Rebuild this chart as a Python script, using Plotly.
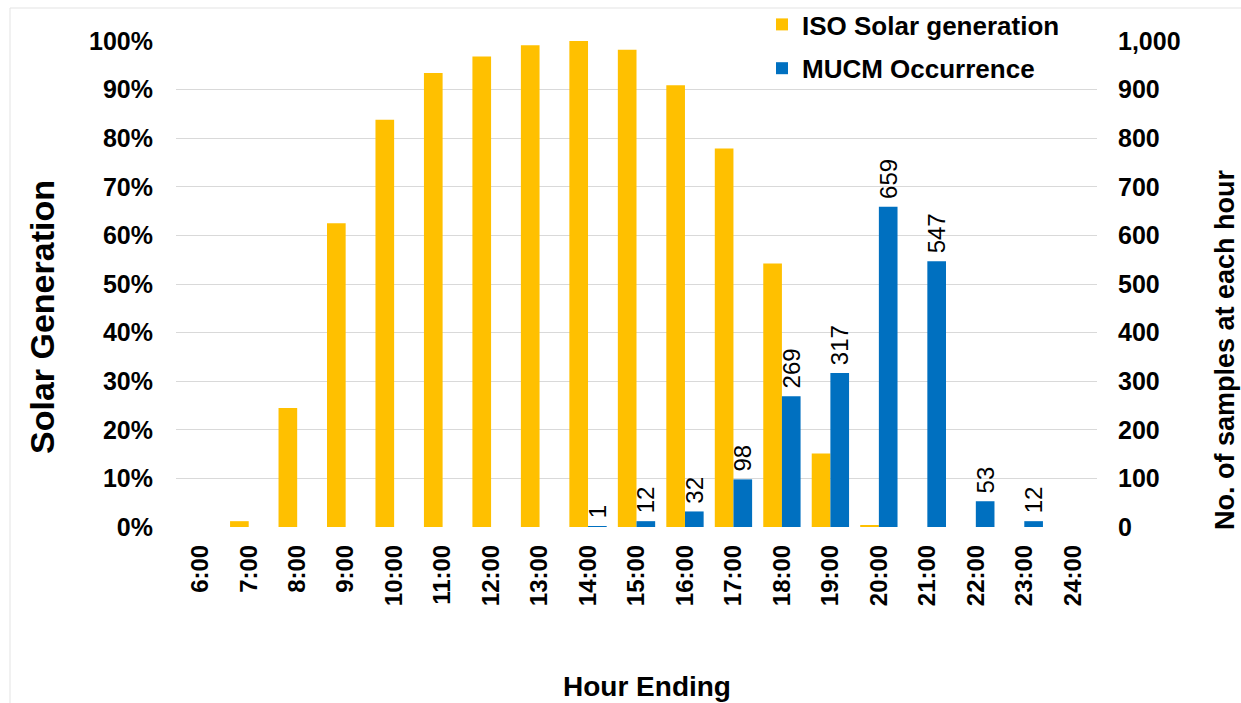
import plotly.graph_objects as go

# Hour-ending categories
hours = ["6:00", "7:00", "8:00", "9:00", "10:00", "11:00", "12:00", "13:00", "14:00",
         "15:00", "16:00", "17:00", "18:00", "19:00", "20:00", "21:00", "22:00", "23:00", "24:00"]

# ISO solar generation as a share of peak (left axis)
solar_share = [0.0, 0.012, 0.245, 0.625, 0.838, 0.934, 0.968, 0.991, 1.0,
               0.982, 0.909, 0.779, 0.542, 0.151, 0.003, 0.0, 0.0, 0.0, 0.0]

# MUCM occurrence counts per hour (right axis)
mucm_count = [None, None, None, None, None, None, None, None, 1,
              12, 32, 98, 269, 317, 659, 547, 53, 12, None]

FONT = "Liberation Sans, Arial, sans-serif"
YELLOW = "#FFC000"
BLUE = "#0070C0"
GRID = "#d9d9d9"
BAR_W = 0.385

# plot-area geometry in pixels, used to place the free-standing titles
FIG_W, FIG_H = 1241, 703
L, R, T, B = 176, 144, 41, 176
W_PLOT = FIG_W - L - R
H_PLOT = FIG_H - T - B


def px_to_paper(px, py):
    return (px - L) / W_PLOT, (FIG_H - B - py) / H_PLOT


fig = go.Figure()

fig.add_trace(go.Bar(
    x=hours, y=solar_share, name="ISO Solar generation",
    legendgroup="solar",
    marker=dict(color=YELLOW, line=dict(width=0)),
    width=BAR_W, offset=-BAR_W, yaxis="y",
))

fig.add_trace(go.Bar(
    x=hours, y=mucm_count, name="MUCM Occurrence",
    legendgroup="mucm",
    marker=dict(color=BLUE, line=dict(width=0)),
    width=BAR_W, offset=0, yaxis="y2",
    text=[("" if v is None else "\u2009" + f"{v:,}") for v in mucm_count],
    textposition="outside", textangle=-90, constraintext="none",
    textfont=dict(family=FONT, size=24, color="#000000"),
    cliponaxis=False,
))

lx, ly = px_to_paper(42, 317)
rx, ry = px_to_paper(1225, 350)
bx, by = px_to_paper(647, 686)
gx, gy = px_to_paper(762, 1)

fig.update_layout(
    width=FIG_W, height=FIG_H,
    margin=dict(l=L, r=R, t=T, b=B, autoexpand=False),
    paper_bgcolor="white", plot_bgcolor="white",
    barmode="overlay",
    font=dict(family=FONT, color="#000000"),
    showlegend=True,
    legend=dict(
        x=gx, y=gy, xanchor="left", yanchor="top",
        traceorder="grouped", tracegroupgap=7,
        bgcolor="rgba(0,0,0,0)", font=dict(family=FONT, size=26, color="#000000", weight="bold"),
        itemwidth=30,
    ),
    xaxis=dict(
        type="category", range=[-0.5, 18.5],
        tickangle=-90, tickfont=dict(family=FONT, size=24, weight="bold"),
        showgrid=False, showline=False, zeroline=False, ticks="",
        ticklabelstandoff=12,
    ),
    yaxis=dict(
        range=[0, 1], dtick=0.1, tickformat=".0%",
        tickfont=dict(family=FONT, size=25, weight="bold"),
        showgrid=True, gridcolor=GRID, gridwidth=1,
        zeroline=False, showline=False, ticks="", ticklabelstandoff=22,
    ),
    yaxis2=dict(
        range=[0, 1000], dtick=100, tickformat=",",
        overlaying="y", side="right",
        tickfont=dict(family=FONT, size=25, weight="bold"),
        showgrid=False, zeroline=False, showline=False, ticks="", ticklabelstandoff=20,
    ),
    annotations=[
        dict(text="Solar Generation", x=lx, y=ly, xref="paper", yref="paper",
             xanchor="center", yanchor="middle", textangle=-90, showarrow=False,
             font=dict(family=FONT, size=34, weight="bold", color="#000000")),
        dict(text="No. of samples at each hour", x=rx, y=ry, xref="paper", yref="paper",
             xanchor="center", yanchor="middle", textangle=-90, showarrow=False,
             font=dict(family=FONT, size=27, weight="bold", color="#000000")),
        dict(text="Hour Ending", x=bx, y=by, xref="paper", yref="paper",
             xanchor="center", yanchor="middle", showarrow=False,
             font=dict(family=FONT, size=28, weight="bold", color="#000000")),
    ],
    shapes=[dict(
        type="rect", xref="paper", yref="paper",
        x0=(10 - L) / W_PLOT, x1=(1250 - L) / W_PLOT,
        y0=(527 - 712) / H_PLOT, y1=(527 - 8) / H_PLOT,
        line=dict(color="#e3e3e3", width=1), fillcolor="rgba(0,0,0,0)", layer="below",
    )],
)

fig.write_html("out.html")
